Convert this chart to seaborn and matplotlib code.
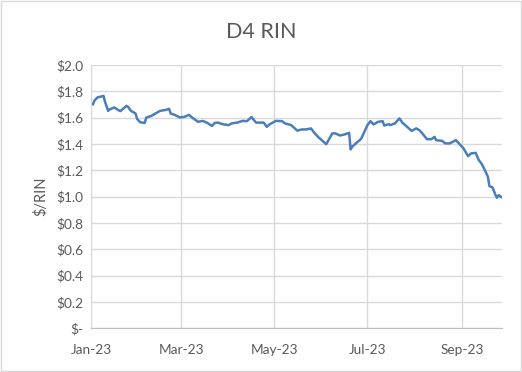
import pandas as pd
import numpy as np
import seaborn as sns
import matplotlib.dates as mdates
from matplotlib import pyplot as plt
from matplotlib.patches import Rectangle

# values
dates = ['2023-01-02', '2023-01-03', '2023-01-05', '2023-01-09', '2023-01-10', '2023-01-12',
         '2023-01-13', '2023-01-16', '2023-01-18', '2023-01-20', '2023-01-24', '2023-01-25',
         '2023-01-27', '2023-01-30', '2023-01-31', '2023-02-02', '2023-02-05', '2023-02-06',
         '2023-02-09', '2023-02-12', '2023-02-15', '2023-02-19', '2023-02-21', '2023-02-22',
         '2023-02-25', '2023-02-28', '2023-03-03', '2023-03-06', '2023-03-08', '2023-03-12',
         '2023-03-15', '2023-03-18', '2023-03-21', '2023-03-23', '2023-03-25', '2023-03-28',
         '2023-04-01', '2023-04-03', '2023-04-07', '2023-04-10', '2023-04-13', '2023-04-16',
         '2023-04-19', '2023-04-24', '2023-04-26', '2023-04-28', '2023-05-02', '2023-05-06',
         '2023-05-08', '2023-05-12', '2023-05-16', '2023-05-19', '2023-05-22', '2023-05-25',
         '2023-05-27', '2023-05-30', '2023-06-02', '2023-06-04', '2023-06-08', '2023-06-10',
         '2023-06-13', '2023-06-16', '2023-06-19', '2023-06-20', '2023-06-21', '2023-06-24',
         '2023-06-26', '2023-06-27', '2023-06-29', '2023-07-01', '2023-07-03', '2023-07-05',
         '2023-07-08', '2023-07-11', '2023-07-12', '2023-07-15', '2023-07-16', '2023-07-19',
         '2023-07-22', '2023-07-24', '2023-07-27', '2023-07-30', '2023-08-02', '2023-08-04',
         '2023-08-06', '2023-08-09', '2023-08-12', '2023-08-14', '2023-08-15', '2023-08-19',
         '2023-08-21', '2023-08-24', '2023-08-28', '2023-08-31', '2023-09-02', '2023-09-05',
         '2023-09-07', '2023-09-10', '2023-09-12', '2023-09-14', '2023-09-16', '2023-09-18',
         '2023-09-19', '2023-09-21', '2023-09-23', '2023-09-24', '2023-09-25', '2023-09-27']
prices = [1.70, 1.73, 1.754, 1.766, 1.72, 1.652,
          1.663, 1.678, 1.663, 1.65, 1.69, 1.683,
          1.652, 1.632, 1.591, 1.566, 1.561, 1.602,
          1.612, 1.632, 1.652, 1.66, 1.668, 1.632,
          1.62, 1.602, 1.607, 1.622, 1.602, 1.569,
          1.576, 1.561, 1.538, 1.561, 1.563, 1.551,
          1.544, 1.557, 1.564, 1.576, 1.574, 1.605,
          1.563, 1.563, 1.531, 1.551, 1.576, 1.574,
          1.557, 1.544, 1.502, 1.511, 1.511, 1.519,
          1.488, 1.45, 1.42, 1.399, 1.481, 1.481,
          1.465, 1.473, 1.485, 1.359, 1.379, 1.411,
          1.43, 1.443, 1.493, 1.544, 1.574, 1.549,
          1.569, 1.574, 1.541, 1.551, 1.544, 1.557,
          1.595, 1.561, 1.531, 1.50, 1.519, 1.506,
          1.481, 1.437, 1.437, 1.455, 1.43, 1.424,
          1.405, 1.405, 1.43, 1.392, 1.367, 1.308,
          1.329, 1.333, 1.278, 1.248, 1.202, 1.151,
          1.08, 1.071, 1.012, 0.992, 1.012, 0.995]

month_ticks = ['2023-01-01', '2023-03-01', '2023-05-01', '2023-07-01', '2023-09-01']
month_labels = ['Jan-23', 'Mar-23', 'May-23', 'Jul-23', 'Sep-23']
y_ticks = [0.0, 0.2, 0.4, 0.6, 0.8, 1.0, 1.2, 1.4, 1.6, 1.8, 2.0]

df = pd.DataFrame({'date': pd.to_datetime(dates), 'price': prices})

sns.set_style('white')
plt.rcParams['font.family'] = ['Lato', 'DejaVu Sans']

fig = plt.figure(figsize=(5.22, 3.72), dpi=100)
ax = fig.add_axes([0.175, 0.1175, 0.786, 0.7075])

sns.lineplot(data=df, x='date', y='price', ax=ax, color='#4A7EBB', linewidth=1.8)

grey_txt = '#595959'
ax.set_xlim(pd.Timestamp('2023-01-01'), pd.Timestamp('2023-09-27'))
ax.set_ylim(0, 2.0)
ax.set_xticks(pd.to_datetime(month_ticks))
ax.set_xticklabels(month_labels)
ax.set_yticks(y_ticks)
ax.set_yticklabels(['$-' if v == 0 else f'${v:.1f}' for v in y_ticks])
ax.tick_params(axis='both', labelsize=9.8, colors=grey_txt, length=0, pad=6)
ax.tick_params(axis='x', pad=11)

ax.grid(True, color='#d9d9d9', linewidth=1)
for s in ['top', 'right']:
    ax.spines[s].set_visible(False)
ax.spines['left'].set_color('#d9d9d9')
ax.spines['bottom'].set_color('#bfbfbf')

ax.set_xlabel('')
ax.set_ylabel('$/RIN', fontsize=10.5, color=grey_txt, labelpad=6)

fig.text(0.5, 0.913, 'D4 RIN', ha='center', va='center', fontsize=15.5, color=grey_txt)

# thin chart border like the original
fig.patches.append(Rectangle((0.002, 0.003), 0.996, 0.994, transform=fig.transFigure,
                             fill=False, edgecolor='#d9d9d9', linewidth=1))

fig.savefig('out.png', dpi=100)
